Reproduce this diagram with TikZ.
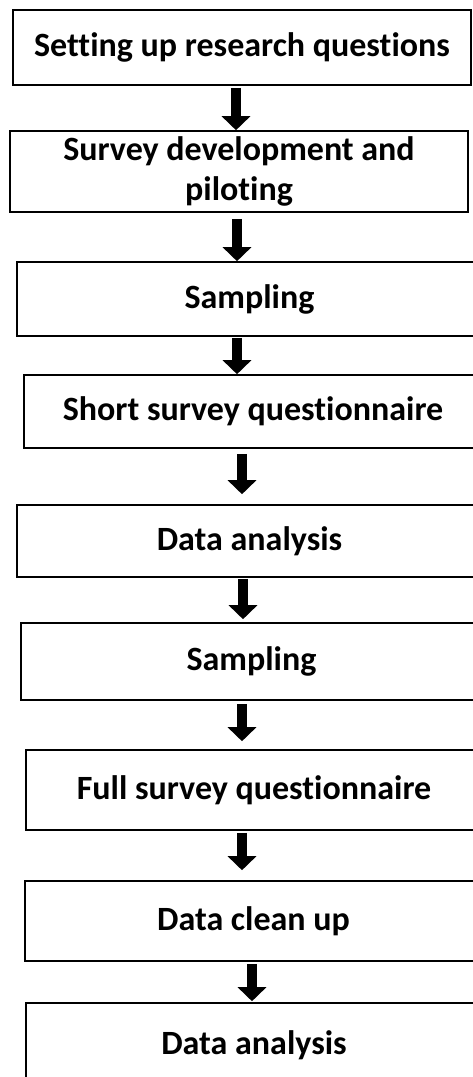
\documentclass[tikz,border=0pt]{standalone}
\usepackage{fontspec}
\setmainfont[Ligatures={NoCommon,NoRare}]{Carlito}
\usetikzlibrary{arrows.meta}
\begin{document}
\begin{tikzpicture}[x=1pt,y=-1pt,
  stepbox/.style={draw=black, line width=1.6pt, fill=white, inner sep=0pt,
    align=center, font=\fontsize{34}{40}\selectfont\bfseries},
  flowarrow/.style={line width=10pt, -{Triangle[width=28pt,length=14pt]}, black}]
\useasboundingbox (0,0) rectangle (472,1077);
\node[stepbox, minimum width=458pt, minimum height=75pt] (b1) at (242,47.5) {Setting up research questions};
\node[stepbox, minimum width=458pt, minimum height=81pt] (b2) at (239,171.5) {Survey development and\\piloting};
\node[stepbox, minimum width=465pt, minimum height=74pt] (b3) at (249.5,299) {Sampling};
\node[stepbox, minimum width=458pt, minimum height=73pt] (b4) at (253,411.5) {Short survey questionnaire};
\node[stepbox, minimum width=465pt, minimum height=72pt] (b5) at (249.5,541) {Data analysis};
\node[stepbox, minimum width=461pt, minimum height=77pt] (b6) at (251.5,661.5) {Sampling};
\node[stepbox, minimum width=456pt, minimum height=80pt] (b7) at (254,790) {Full survey questionnaire};
\node[stepbox, minimum width=457pt, minimum height=80pt] (b8) at (253.5,921) {Data clean up};
\node[stepbox, minimum width=456pt, minimum height=84pt] (b9) at (254,1045) {Data analysis};
\coordinate (x1) at (236,0);
\coordinate (x2) at (237,0);
\coordinate (x3) at (237,0);
\coordinate (x4) at (242,0);
\coordinate (x5) at (243,0);
\coordinate (x6) at (242,0);
\coordinate (x7) at (242,0);
\coordinate (x8) at (252,0);
\draw[flowarrow, shorten <=2pt] (b1.south -| x1) -- (b2.north -| x1);
\draw[flowarrow, shorten <=6pt] (b2.south -| x2) -- (b3.north -| x2);
\draw[flowarrow, shorten <=1pt] (b3.south -| x3) -- (b4.north -| x3);
\draw[flowarrow, shorten <=5pt, shorten >=10pt] (b4.south -| x4) -- (b5.north -| x4);
\draw[flowarrow, shorten <=1pt, shorten >=3pt] (b5.south -| x5) -- (b6.north -| x5);
\draw[flowarrow, shorten <=3pt, shorten >=8pt] (b6.south -| x6) -- (b7.north -| x6);
\draw[flowarrow, shorten <=2pt, shorten >=10pt] (b7.south -| x7) -- (b8.north -| x7);
\draw[flowarrow, shorten <=2pt, shorten >=1pt] (b8.south -| x8) -- (b9.north -| x8);
\end{tikzpicture}
\end{document}
